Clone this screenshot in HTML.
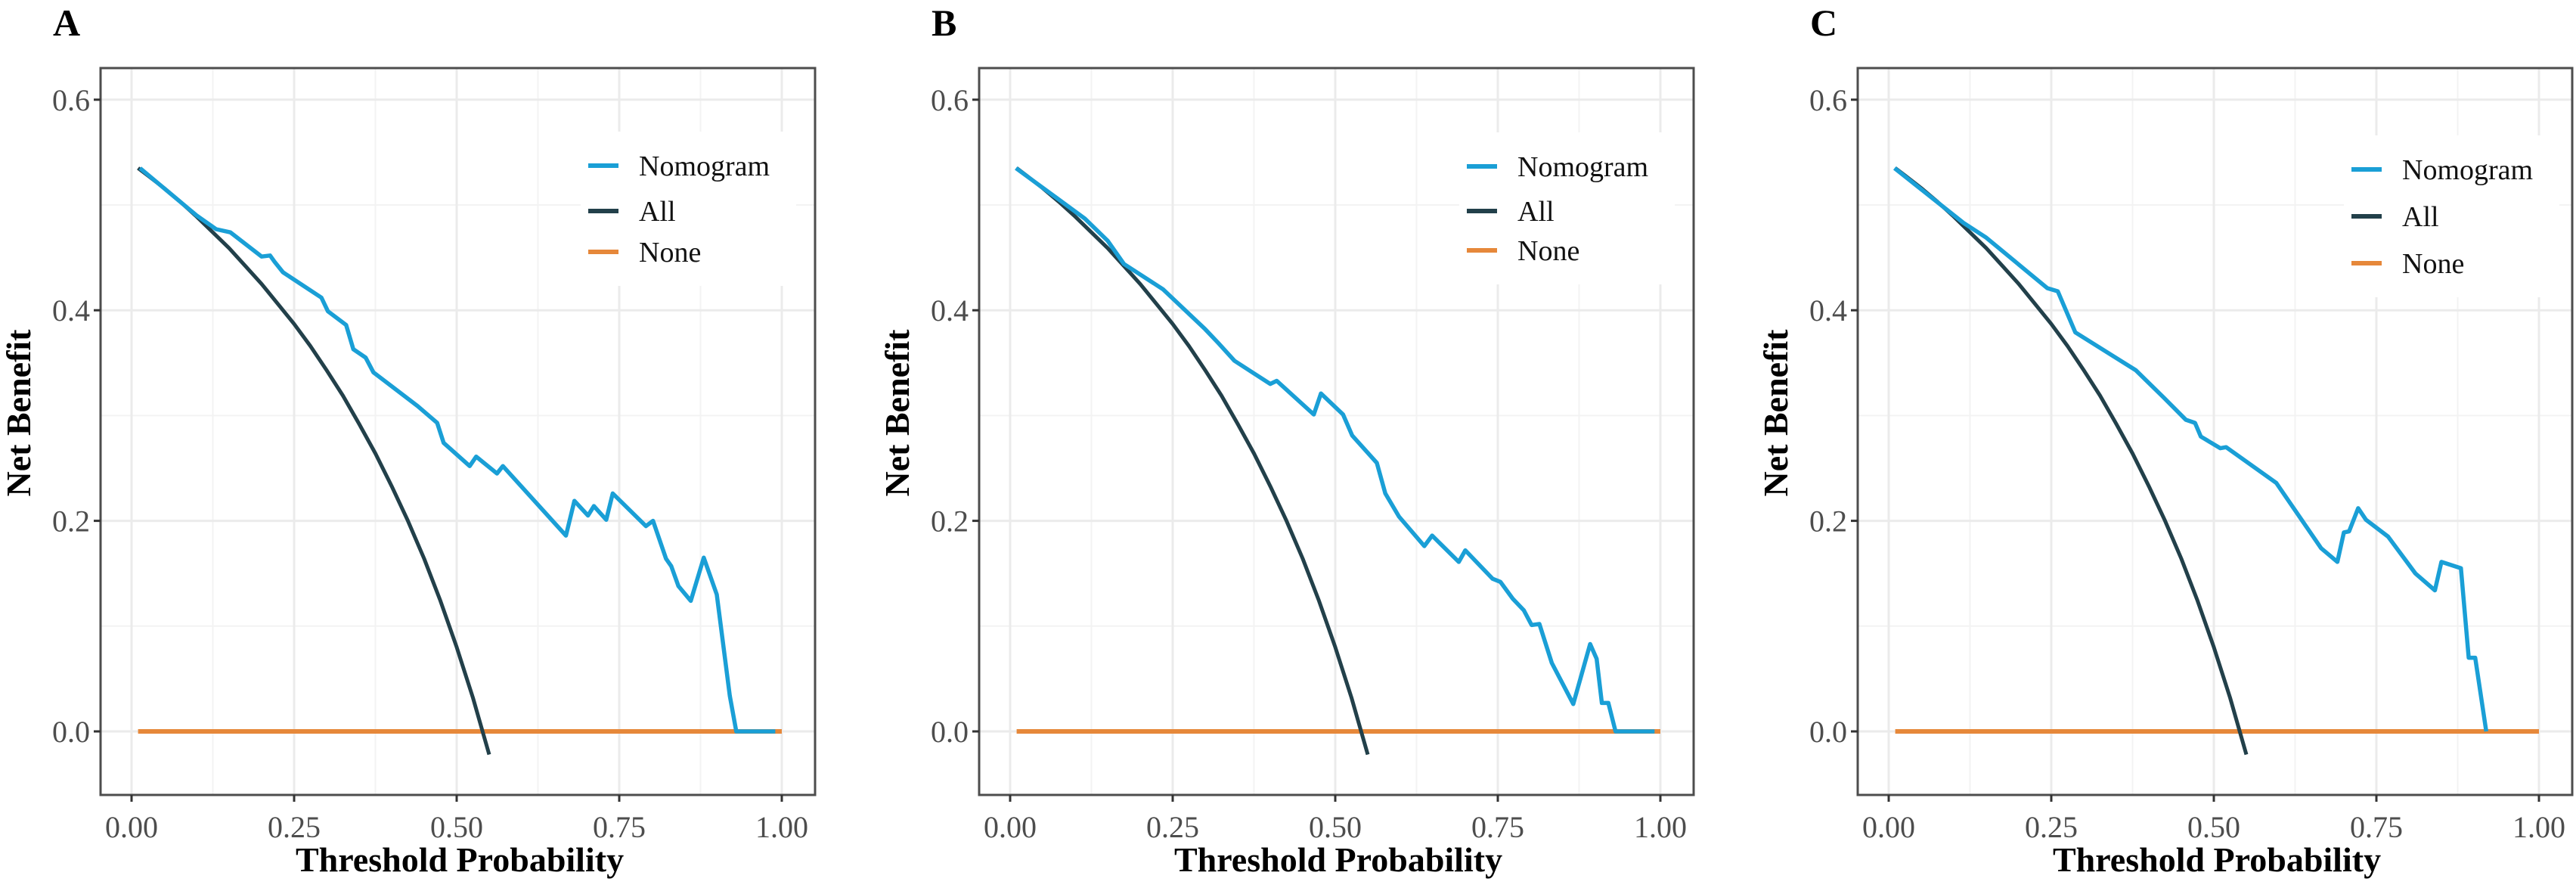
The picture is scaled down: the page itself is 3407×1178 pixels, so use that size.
<!DOCTYPE html>
<html><head><meta charset="utf-8">
<style>
html,body{margin:0;padding:0;background:#fff;}
svg{display:block;}
text{font-family:"Liberation Serif",serif;}
</style></head>
<body>
<svg id="fig" width="3407" height="1178" viewBox="0 0 3407 1178" xmlns="http://www.w3.org/2000/svg"></svg>
<script>
// Shared x thresholds and "All" strategy values
const allX = [0.01,0.025,0.05,0.075,0.1,0.125,0.15,0.175,0.2,0.225,0.25,0.275,0.3,0.325,0.35,0.375,0.4,0.425,0.45,0.475,0.5,0.525,0.55];
const allY = [0.535,0.528,0.516,0.503,0.489,0.474,0.459,0.442,0.425,0.406,0.387,0.366,0.343,0.319,0.292,0.264,0.233,0.200,0.164,0.124,0.080,0.032,-0.022];
const noneX = [0.01,1.0];
const noneY = [0,0];
const xTicks = [0,0.25,0.5,0.75,1.0];
const xTickLabels = ["0.00","0.25","0.50","0.75","1.00"];
const yTicks = [0,0.2,0.4,0.6];
const yTickLabels = ["0.0","0.2","0.4","0.6"];
const legendLabels = ["Nomogram","All","None"];
// Panel A nomogram
const nomoAX = [0.013,0.10,0.13,0.152,0.20,0.213,0.22,0.233,0.292,0.302,0.33,0.341,0.36,0.372,0.44,0.47,0.48,0.52,0.53,0.562,0.571,0.668,0.681,0.702,0.711,0.73,0.74,0.791,0.802,0.822,0.83,0.841,0.86,0.88,0.90,0.92,0.93,0.99];
const nomoAY = [0.535,0.490,0.477,0.474,0.451,0.452,0.446,0.436,0.412,0.399,0.386,0.363,0.355,0.341,0.309,0.293,0.274,0.252,0.261,0.245,0.252,0.186,0.219,0.205,0.214,0.201,0.226,0.195,0.200,0.164,0.157,0.138,0.124,0.165,0.130,0.034,0.0,0.0];
// Panel B nomogram
const nomoBX = [0.009,0.115,0.15,0.175,0.235,0.30,0.32,0.345,0.40,0.41,0.467,0.478,0.512,0.526,0.564,0.577,0.598,0.637,0.649,0.69,0.70,0.742,0.754,0.773,0.79,0.802,0.814,0.833,0.866,0.892,0.902,0.91,0.92,0.931,0.991];
const nomoBY = [0.535,0.487,0.466,0.444,0.420,0.382,0.369,0.352,0.330,0.333,0.301,0.321,0.301,0.281,0.255,0.226,0.204,0.176,0.186,0.161,0.172,0.145,0.142,0.126,0.115,0.101,0.102,0.065,0.026,0.083,0.069,0.027,0.027,0.0,0.0];
// Panel C nomogram
const nomoCX = [0.009,0.115,0.15,0.244,0.26,0.287,0.38,0.423,0.457,0.471,0.48,0.51,0.519,0.596,0.665,0.69,0.70,0.708,0.722,0.734,0.768,0.81,0.84,0.85,0.88,0.892,0.902,0.919];
const nomoCY = [0.535,0.483,0.469,0.421,0.418,0.379,0.343,0.317,0.296,0.293,0.280,0.269,0.270,0.236,0.174,0.161,0.189,0.190,0.212,0.201,0.185,0.150,0.134,0.161,0.155,0.070,0.070,0.0];

const NS="http://www.w3.org/2000/svg";
const svg=document.getElementById('fig');
function mk(tag,attrs,parent){const e=document.createElementNS(NS,tag);for(const k in attrs)e.setAttribute(k,attrs[k]);(parent||svg).appendChild(e);return e;}

const panels=[
 {id:'a',label:'A',off:0,nx:nomoAX,ny:nomoAY,leg:[219,279,333]},
 {id:'b',label:'B',off:1162,nx:nomoBX,ny:nomoBY,leg:[220,279,331]},
 {id:'c',label:'C',off:2324,nx:nomoCX,ny:nomoCY,leg:[224,286,348],legDx:8}
];
const COL={nomo:'#1a9fd6',all:'#22404a',none:'#e6883a'};

panels.forEach(p=>{
  const o=p.off;
  const L=133+o,R=1078+o,T=90,B=1051;
  const sx=v=>174+o+v*860;
  const sy=v=>967-v*1392;
  const g=mk('g',{});
  
  
  // panel letter
  const pl=mk('text',{x:70+o,y:47,'font-size':50,'font-weight':'bold',fill:'#000'},g);
  pl.textContent=p.label;
  
  
  // background
  mk('rect',{x:L,y:T,width:R-L,height:B-T,fill:'#fff'},g);
  // minor grid
  [0.125,0.375,0.625,0.875].forEach(v=>{const l=mk('line',{x1:sx(v),x2:sx(v),y1:T,y2:B,stroke:'#f3f3f3','stroke-width':2},g);});
  [0.1,0.3,0.5].forEach(v=>{const l=mk('line',{x1:L,x2:R,y1:sy(v),y2:sy(v),stroke:'#f3f3f3','stroke-width':2},g);});
  xTicks.forEach(v=>{const l=mk('line',{x1:sx(v),x2:sx(v),y1:T,y2:B,stroke:'#ebebeb','stroke-width':3},g);});
  yTicks.forEach(v=>{const l=mk('line',{x1:L,x2:R,y1:sy(v),y2:sy(v),stroke:'#ebebeb','stroke-width':3},g);});
  // series
  const pts=(xs,ys)=>xs.map((x,i)=>sx(x).toFixed(1)+','+sy(ys[i]).toFixed(1)).join(' ');
  const none=mk('polyline',{points:pts(noneX,noneY),fill:'none',stroke:COL.none,'stroke-width':6},g);
  
  
  const all=mk('polyline',{points:pts(allX,allY),fill:'none',stroke:COL.all,'stroke-width':5,'stroke-linejoin':'round'},g);
  
  
  const nomo=mk('polyline',{points:pts(p.nx,p.ny),fill:'none',stroke:COL.nomo,'stroke-width':5.5,'stroke-linejoin':'round'},g);
  
  
  // legend
  const dx=p.legDx||0;
  const lg=mk('g',{},g);
  
  
  mk('rect',{x:768+o+dx,y:p.leg[0]-45,width:285,height:p.leg[2]-p.leg[0]+90,fill:'#fff'},lg);
  [COL.nomo,COL.all,COL.none].forEach((c,i)=>{
    const k=mk('line',{x1:778+o+dx,x2:818+o+dx,y1:p.leg[i],y2:p.leg[i],stroke:c,'stroke-width':6},lg);
    
    
    const t=mk('text',{x:845+o+dx,y:p.leg[i]+13,'font-size':38,fill:'#111'},lg);
    t.textContent=legendLabels[i];
    
    
  });
  // border
  mk('rect',{x:L,y:T,width:R-L,height:B-T,fill:'none',stroke:'#4d4d4d','stroke-width':3},g);
  // ticks
  xTicks.forEach((v,i)=>{
    mk('line',{x1:sx(v),x2:sx(v),y1:B,y2:B+9,stroke:'#333','stroke-width':3},g);
    const t=mk('text',{x:sx(v),y:1107,'font-size':40,fill:'#4d4d4d','text-anchor':'middle'},g);
    t.textContent=xTickLabels[i];
    
    
  });
  yTicks.forEach((v,i)=>{
    mk('line',{x1:L-9,x2:L,y1:sy(v),y2:sy(v),stroke:'#333','stroke-width':3},g);
    const t=mk('text',{x:L-14,y:sy(v)+14,'font-size':40,fill:'#4d4d4d','text-anchor':'end'},g);
    t.textContent=yTickLabels[i];
    
    
  });
  const xt=mk('text',{x:608+o,y:1152,'font-size':46,'font-weight':'bold',fill:'#000','text-anchor':'middle'},g);
  xt.textContent='Threshold Probability';
  
  
  const yt=mk('text',{x:0,y:0,'font-size':46,'font-weight':'bold',fill:'#000','text-anchor':'middle',transform:'translate('+(40+o)+',546) rotate(-90)'},g);
  yt.textContent='Net Benefit';
  
  
});
</script>
</body></html>
